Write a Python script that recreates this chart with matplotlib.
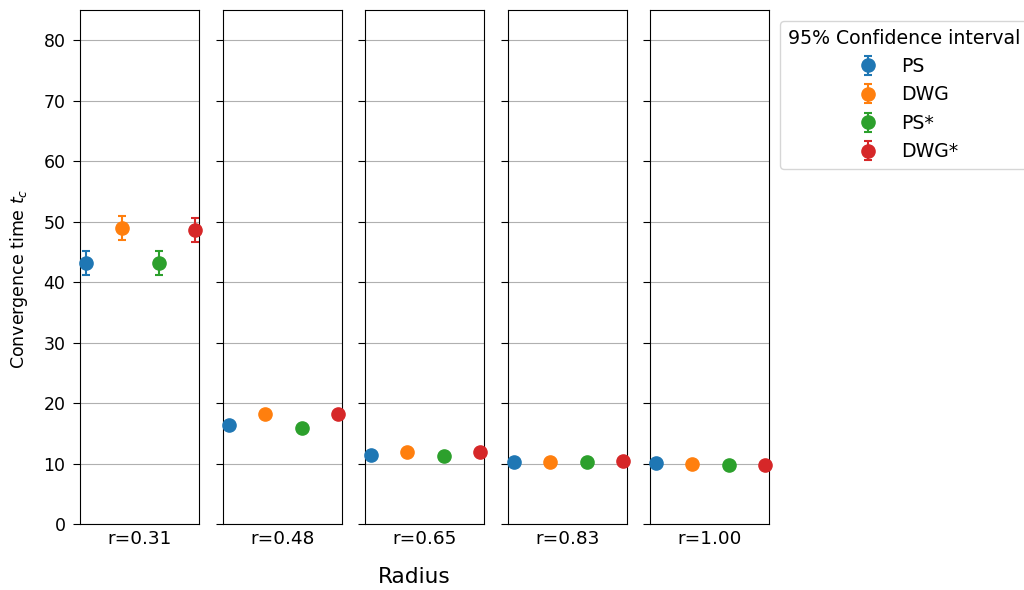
import matplotlib
matplotlib.use("Agg")
import matplotlib.pyplot as plt
import numpy as np

radii = ["r=0.31", "r=0.48", "r=0.65", "r=0.83", "r=1.00"]
methods = ["PS", "DWG", "PS*", "DWG*"]
colors = ["#1f77b4", "#ff7f0e", "#2ca02c", "#d62728"]

# mean convergence time per radius (rows) and method (columns)
means = [
    [43.2, 49.0, 43.2, 48.6],
    [16.4, 18.2, 15.9, 18.2],
    [11.4, 11.9, 11.3, 11.9],
    [10.3, 10.3, 10.3, 10.4],
    [10.1, 10.0, 9.8, 9.8],
]
# half-width of 95% confidence interval
errs = [
    [2.0, 2.0, 2.0, 2.0],
    [0.4, 0.4, 0.4, 0.4],
    [0.3, 0.3, 0.3, 0.3],
    [0.2, 0.2, 0.2, 0.2],
    [0.2, 0.2, 0.2, 0.2],
]

offsets = [-0.4, -0.1333, 0.1333, 0.4]

fig = plt.figure(figsize=(10.24, 5.9), dpi=100)
lefts = [80, 223, 365, 508, 650]
width = 119
bottom_px, top_px = 524, 10
H, W = 590, 1024
axes = []
for i, r in enumerate(radii):
    ax = fig.add_axes([lefts[i] / W, 1 - bottom_px / H, width / W, (bottom_px - top_px) / H])
    axes.append(ax)
    for j, m in enumerate(methods):
        ax.errorbar(offsets[j], means[i][j], yerr=errs[i][j], fmt="o", color=colors[j],
                    markersize=9.5, capsize=3, elinewidth=1.5, capthick=1.5, label=m,
                    clip_on=False, zorder=3)
    ax.set_xlim(-0.444, 0.43)
    ax.set_ylim(0, 85)
    ax.set_yticks(np.arange(0, 81, 10))
    ax.yaxis.grid(True, color="#b0b0b0", linewidth=0.8)
    ax.set_axisbelow(True)
    ax.set_xticks([])
    ax.set_xlabel(r, fontsize=13.3, labelpad=4)
    ax.tick_params(axis="y", labelsize=12.5, length=5, pad=5.5)
    if i > 0:
        ax.tick_params(axis="y", labelleft=False)

fig.text(19 / W, 1 - 279 / H, "Convergence time $t_c$", rotation=90,
         ha="center", va="center", fontsize=12.5)
fig.text(414 / W, 1 - 577 / H, "Radius", ha="center", va="center", fontsize=15.6)

handles, labels = axes[-1].get_legend_handles_labels()
fig.legend(handles, labels, title="95% Confidence interval", loc="upper left",
           bbox_to_anchor=(780 / W, 1 - 21 / H), borderaxespad=0,
           fontsize=13.6, title_fontsize=13.6)

fig.savefig("out.png", dpi=100)
